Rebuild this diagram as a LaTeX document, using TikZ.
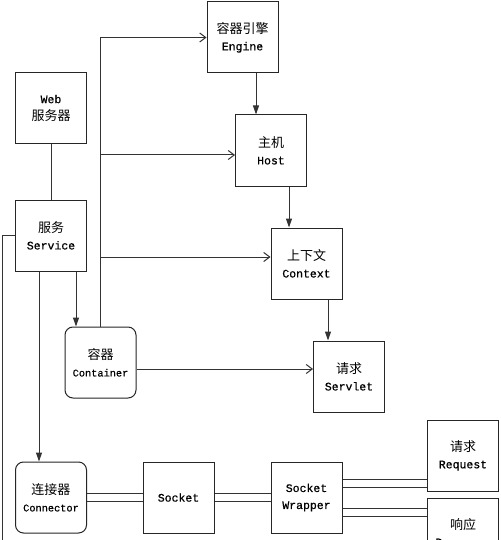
\documentclass[tikz,border=0pt]{standalone}
\usepackage{fontspec}
\setmonofont{Liberation Mono}[FakeBold=0.6]
\newfontfamily\cjk{Noto Sans CJK SC}
\newcommand\zhtext[1]{{\cjk\fontsize{13}{17}\selectfont #1}}
\usetikzlibrary{arrows.meta}
\begin{document}
\begin{tikzpicture}[x=1pt,y=-1pt,
  box/.style={draw=black!85, line width=1pt, minimum width=71pt, minimum height=71pt,
    inner sep=0pt, align=center, font=\fontsize{11.5}{17}\selectfont\ttfamily},
  rbox/.style={box, rounded corners=8pt, font=\fontsize{10.3}{17}\selectfont\ttfamily},
  link/.style={draw=black!80, line width=1pt},
  tri/.style={link, -{Triangle[length=9pt,width=6pt]}},
  opn/.style={link, -{Straight Barb[length=6pt,width=9pt]}},
]
\useasboundingbox (0,0) rectangle (500,540);
\clip (0,0) rectangle (500,540);
\fill[white] (0,0) rectangle (500,540);

\node[box] (engine) at (242.5,37.5) {\zhtext{容器引擎}\\Engine};
\node[box] (web) at (51,108) {Web\\\zhtext{服务器}};
\node[box] (host) at (271,150.5) {\zhtext{主机}\\Host};
\node[box] (service) at (51,235.5) {\zhtext{服务}\\Service};
\node[box] (context) at (306.5,263.5) {\zhtext{上下文}\\Context};
\node[rbox] (container) at (100.5,362.5) {\zhtext{容器}\\Container};
\node[box] (servlet) at (349,376.5) {\zhtext{请求}\\Servlet};
\node[rbox] (connector) at (51,497.5) {\zhtext{连接器}\\Connector};
\node[box] (socket) at (178.5,497.5) {Socket};
\node[box] (wrapper) at (306.5,497.5) {Socket\\Wrapper};
\node[box] (request) at (463,455.5) {\zhtext{请求}\\Request};
\node[box] (response) at (463,533.5) {\zhtext{响应}\\Response};
\coordinate (lb) at (2,545);

% vertical arrows
\draw[tri] ([xshift=13.5pt]engine.south) coordinate (e1) -- (e1 |- host.north);
\draw[tri] ([xshift=18pt]host.south) coordinate (h2) -- (h2 |- context.north);
\draw[tri] ([xshift=21.5pt]context.south) coordinate (c2) -- (c2 |- servlet.north);
\draw[tri] ([xshift=25pt]service.south) coordinate (s2) -- (s2 |- container.north);
\draw[tri] ([xshift=-12pt]service.south) coordinate (s3) -- (s3 |- connector.north);

% trunk
\draw[opn] (container.north) |- (engine.west);
\path ([yshift=-4.5pt]host.west) coordinate (h1);
\draw[opn] (container.north |- h1) -- (h1);
\path ([yshift=6.5pt]context.west) coordinate (c1);
\draw[opn] (container.north |- c1) -- (c1);
\path ([yshift=7.5pt]servlet.west) coordinate (v1);
\draw[opn] (container.east |- v1) -- (v1);

% plain lines
\draw[link] (web) -- (service);
\draw[link] (service.west) -| (lb);

% double lines
\foreach \d in {4.5,-3.5}{
  \draw[link] ([yshift=\d pt]connector.east) -- ([yshift=\d pt]socket.west);
  \draw[link] ([yshift=\d pt]socket.east) -- ([yshift=\d pt]wrapper.west);
}
\foreach \d in {18.5,10.5}{
  \path ([yshift=\d pt]wrapper.east) coordinate (w1);
  \draw[link] (w1) -- (w1 -| request.west);
}
\foreach \d in {-10.5,-18.5}{
  \path ([yshift=\d pt]wrapper.east) coordinate (w2);
  \draw[link] (w2) -- (w2 -| response.west);
}
\end{tikzpicture}
\end{document}
